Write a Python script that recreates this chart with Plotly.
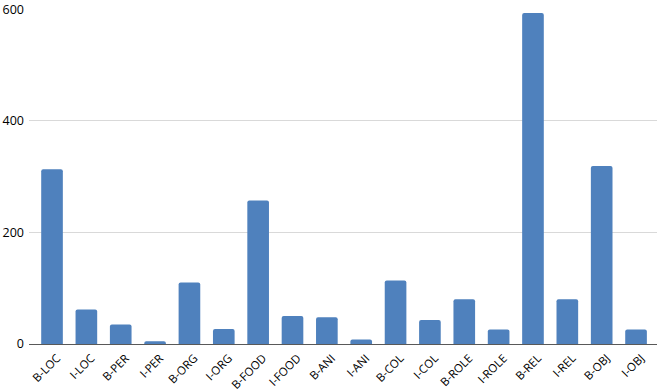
import plotly.graph_objects as go

categories = ["B-LOC", "I-LOC", "B-PER", "I-PER", "B-ORG", "I-ORG", "B-FOOD", "I-FOOD",
              "B-ANI", "I-ANI", "B-COL", "I-COL", "B-ROLE", "I-ROLE", "B-REL", "I-REL",
              "B-OBJ", "I-OBJ"]
counts = [313, 62, 35, 5, 110, 27, 257, 50, 48, 8, 114, 43, 80, 26, 593, 80, 319, 26]
y_ticks = [0, 200, 400, 600]

fig = go.Figure(go.Bar(
    x=categories, y=counts,
    marker=dict(color="#4F81BD", line=dict(width=0), cornerradius=2),
    width=0.63,
))

fig.update_layout(
    width=659, height=392,
    margin=dict(l=29, r=2, t=9, b=48),
    paper_bgcolor="white", plot_bgcolor="white",
    showlegend=False,
    font=dict(family="Open Sans, Liberation Sans, sans-serif", size=12, color="#000000"),
    bargap=0.37,
)
fig.update_xaxes(
    range=[-0.67, 17.61],
    tickangle=-45,
    showgrid=False,
    showline=True, linecolor="#595959", linewidth=1,
    ticks="", tickfont=dict(size=11.5),
    ticklabelstandoff=2, ticklabelshift=5,
    automargin=False,
)
fig.update_yaxes(
    range=[0, 600.3],
    tickvals=y_ticks,
    showgrid=True, gridcolor="#D9D9D9", gridwidth=1,
    zeroline=False, showline=False,
    ticks="", ticklabelstandoff=4,
    ticklabeloverflow="allow",
    tickfont=dict(size=12.5),
    automargin=False,
)

fig.write_html("out.html")
